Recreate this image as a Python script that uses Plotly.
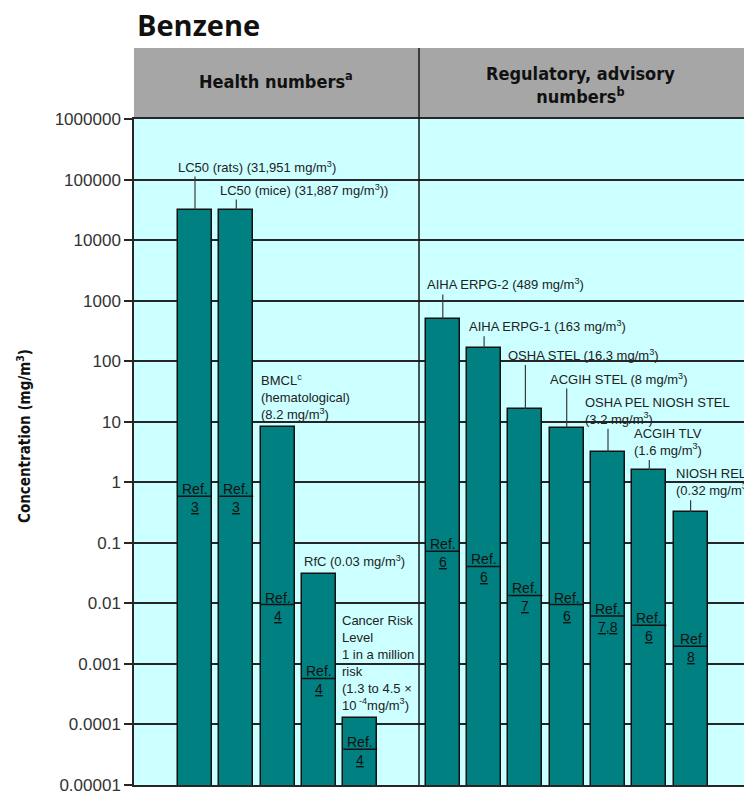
import math
import plotly.graph_objects as go

# ---- data -------------------------------------------------------------
health_names = ["LC50 (rats)", "LC50 (mice)", "BMCL (hematological)", "RfC",
                "Cancer Risk Level"]
health_values = [31951, 31887, 8.2, 0.03, 1.3e-4]
health_refs = ["3", "3", "4", "4", "4"]
health_notes = [
    "LC50 (rats) (31,951 mg/m<sup>3</sup>)",
    "LC50 (mice) (31,887 mg/m<sup>3</sup>))",
    "BMCL<sup>c</sup><br>(hematological)<br>(8.2 mg/m<sup>3</sup>)",
    "RfC (0.03 mg/m<sup>3</sup>)",
    "Cancer Risk<br>Level<br>1 in a million<br>risk<br>(1.3 to 4.5 ×<br>10<sup> -4</sup>mg/m<sup>3</sup>)",
]

reg_names = ["AIHA ERPG-2", "AIHA ERPG-1", "OSHA STEL", "ACGIH STEL",
             "OSHA PEL NIOSH STEL", "ACGIH TLV", "NIOSH REL"]
reg_values = [489, 163, 16.3, 8, 3.2, 1.6, 0.32]
reg_refs = ["6", "6", "7", "6", "7,8", "6", "8"]
reg_notes = [
    "AIHA ERPG-2 (489 mg/m<sup>3</sup>)",
    "AIHA ERPG-1 (163 mg/m<sup>3</sup>)",
    "OSHA STEL (16.3 mg/m<sup>3</sup>)",
    "ACGIH STEL (8 mg/m<sup>3</sup>)",
    "OSHA PEL NIOSH STEL<br>(3.2 mg/m<sup>3</sup>)",
    "ACGIH TLV<br>(1.6 mg/m<sup>3</sup>)",
    "NIOSH REL<br>(0.32 mg/m<sup>3</sup>)",
]

tick_vals = [1e-5, 1e-4, 1e-3, 1e-2, 1e-1, 1, 10, 100, 1000, 10000, 100000, 1000000]
tick_text = ["0.00001", "0.0001", "0.001", "0.01", "0.1", "1", "10", "100",
             "1000", "10000", "100000", "1000000"]

# ---- layout helpers ---------------------------------------------------
health_pos = [1, 2, 3, 4, 5]
reg_pos = [7, 8, 9, 10, 11, 12, 13]
health_leader_px = [33, 10, 0, 0, 0]
reg_leader_px = [25, 12, 44, 39, 23, 10, 12]
health_note_dx = [-2, -1, -2, 0, -3]
reg_note_dx = [-1, 0, -2, -2, -8, 0, 0]
health_ref_line = [-0.23, -0.23, -2.02, -3.24, -4.41]
reg_ref_line = [-1.14, -1.39, -1.87, -2.02, -2.21, -2.36, -2.71]
ref_word = ["Ref.", "Ref.", "Ref.", "Ref.", "Ref.", "Ref.", "Ref.",
            "Ref.", "Ref.", "Ref.", "Ref.", "Ref"]

W, H = 744, 791
M_L, M_R, M_T, M_B = 134, 0, 119, 6
PLOT_W = W - M_L - M_R
PLOT_H = H - M_T - M_B
PX_PER_DECADE = PLOT_H / 11.0
SLOT_PX = 41.3
X0 = 1 - 61 / SLOT_PX
X1 = X0 + PLOT_W / SLOT_PX
BAR_W = 0.82

TEAL = "#008080"
CYAN = "#CCFFFF"
GRID = "#262626"
HEAD = "DejaVu Sans Condensed, DejaVu Sans, sans-serif"
ARIAL = "Liberation Sans, Arial, sans-serif"


def paper_y(px):
    return (H - M_B - px) / PLOT_H


def paper_x(px):
    return (px - M_L) / PLOT_W


positions = health_pos + reg_pos
values = health_values + reg_values
names = health_names + reg_names
refs = health_refs + reg_refs
notes = health_notes + reg_notes
leaders = health_leader_px + reg_leader_px
note_dx = health_note_dx + reg_note_dx
ref_lines = health_ref_line + reg_ref_line

fig = go.Figure()

fig.add_trace(go.Bar(
    x=positions, y=values, width=BAR_W,
    marker=dict(color=TEAL, line=dict(color="#111111", width=1.5)),
    hovertext=names, hoverinfo="text+y", showlegend=False,
))

# leader lines from each bar top up to its label
lx, ly = [], []
for p, v, L in zip(positions, values, leaders):
    if L > 0:
        lx += [p, p, None]
        ly += [v, v * 10 ** (L / PX_PER_DECADE), None]
fig.add_trace(go.Scatter(x=lx, y=ly, mode="lines",
                         line=dict(color="#3a3a3a", width=1.2),
                         hoverinfo="skip", showlegend=False))

# rule under each "Ref." tag, spanning the bar
rx, ry = [], []
for p, r in zip(positions, ref_lines):
    rx += [p - BAR_W / 2, p + BAR_W / 2, None]
    ry += [10 ** r, 10 ** r, None]
fig.add_trace(go.Scatter(x=rx, y=ry, mode="lines",
                         line=dict(color="#111111", width=1.5),
                         hoverinfo="skip", showlegend=False))

annotations = []
for p, v, txt, L, dx in zip(positions, values, notes, leaders, note_dx):
    annotations.append(dict(
        x=p - BAR_W / 2, y=math.log10(v), xref="x", yref="y",
        text=txt, showarrow=False, xanchor="left", yanchor="bottom",
        align="left", xshift=dx, yshift=L if L > 0 else 3,
        font=dict(family=ARIAL, size=13, color="#222222"),
    ))

for i, (p, r, ref) in enumerate(zip(positions, ref_lines, refs)):
    annotations.append(dict(
        x=p, y=r, xref="x", yref="y", text=ref_word[i], showarrow=False,
        xanchor="center", yanchor="bottom", yshift=-3,
        font=dict(family=ARIAL, size=14, color="#111111"),
    ))
    annotations.append(dict(
        x=p, y=r, xref="x", yref="y", text=ref, showarrow=False,
        xanchor="center", yanchor="top", yshift=-1,
        font=dict(family=ARIAL, size=14, color="#111111", lineposition="under"),
    ))

# header band titles
annotations += [
    dict(x=paper_x(276), y=paper_y(80), xref="paper", yref="paper",
         text="<b>Health numbers<sup>a</sup></b>", showarrow=False,
         xanchor="center", yanchor="middle",
         font=dict(family=HEAD, size=18, color="#111111")),
    dict(x=paper_x(580), y=paper_y(85), xref="paper", yref="paper",
         text="<b>Regulatory, advisory<br>numbers<sup>b</sup></b>", showarrow=False,
         xanchor="center", yanchor="middle",
         font=dict(family=HEAD, size=18, color="#111111")),
    dict(x=paper_x(135), y=paper_y(25), xref="paper", yref="paper",
         text="<b>Benzene</b>", showarrow=False, xanchor="left", yanchor="middle",
         font=dict(family="Open Sans, Lato, sans-serif", size=29, color="#111111")),
    dict(x=paper_x(24), y=paper_y(436), xref="paper", yref="paper",
         text="<b>Concentration (mg/m<sup>3</sup>)</b>", showarrow=False,
         textangle=-90, xanchor="center", yanchor="middle",
         font=dict(family=HEAD, size=15, color="#111111")),
]

shapes = [
    dict(type="rect", xref="paper", yref="paper", x0=0, x1=1,
         y0=1, y1=paper_y(48), fillcolor="#A6A6A6", line=dict(width=0),
         layer="below"),
    dict(type="line", xref="paper", yref="paper", x0=paper_x(419), x1=paper_x(419),
         y0=0, y1=paper_y(48), line=dict(color="#1a1a1a", width=1.5)),
]

fig.update_layout(
    width=W, height=H,
    margin=dict(l=M_L, r=M_R, t=M_T, b=M_B),
    paper_bgcolor="white", plot_bgcolor=CYAN,
    bargap=0, annotations=annotations, shapes=shapes,
    xaxis=dict(range=[X0, X1], showticklabels=False, showgrid=False,
               zeroline=False, ticks="", showline=True, mirror=True,
               linecolor=GRID, linewidth=1.5, automargin=False),
    yaxis=dict(type="log", range=[-5, 6], tickvals=tick_vals, ticktext=tick_text,
               showgrid=True, gridcolor=GRID, gridwidth=1.5,
               ticks="outside", ticklen=8, tickwidth=1.5, tickcolor=GRID,
               showline=True, linecolor=GRID, linewidth=1.5,
               ticklabeloverflow="allow", automargin=False,
               tickfont=dict(family=ARIAL, size=17, color="#333333"),
               zeroline=False),
)

fig.write_html("out.html")
